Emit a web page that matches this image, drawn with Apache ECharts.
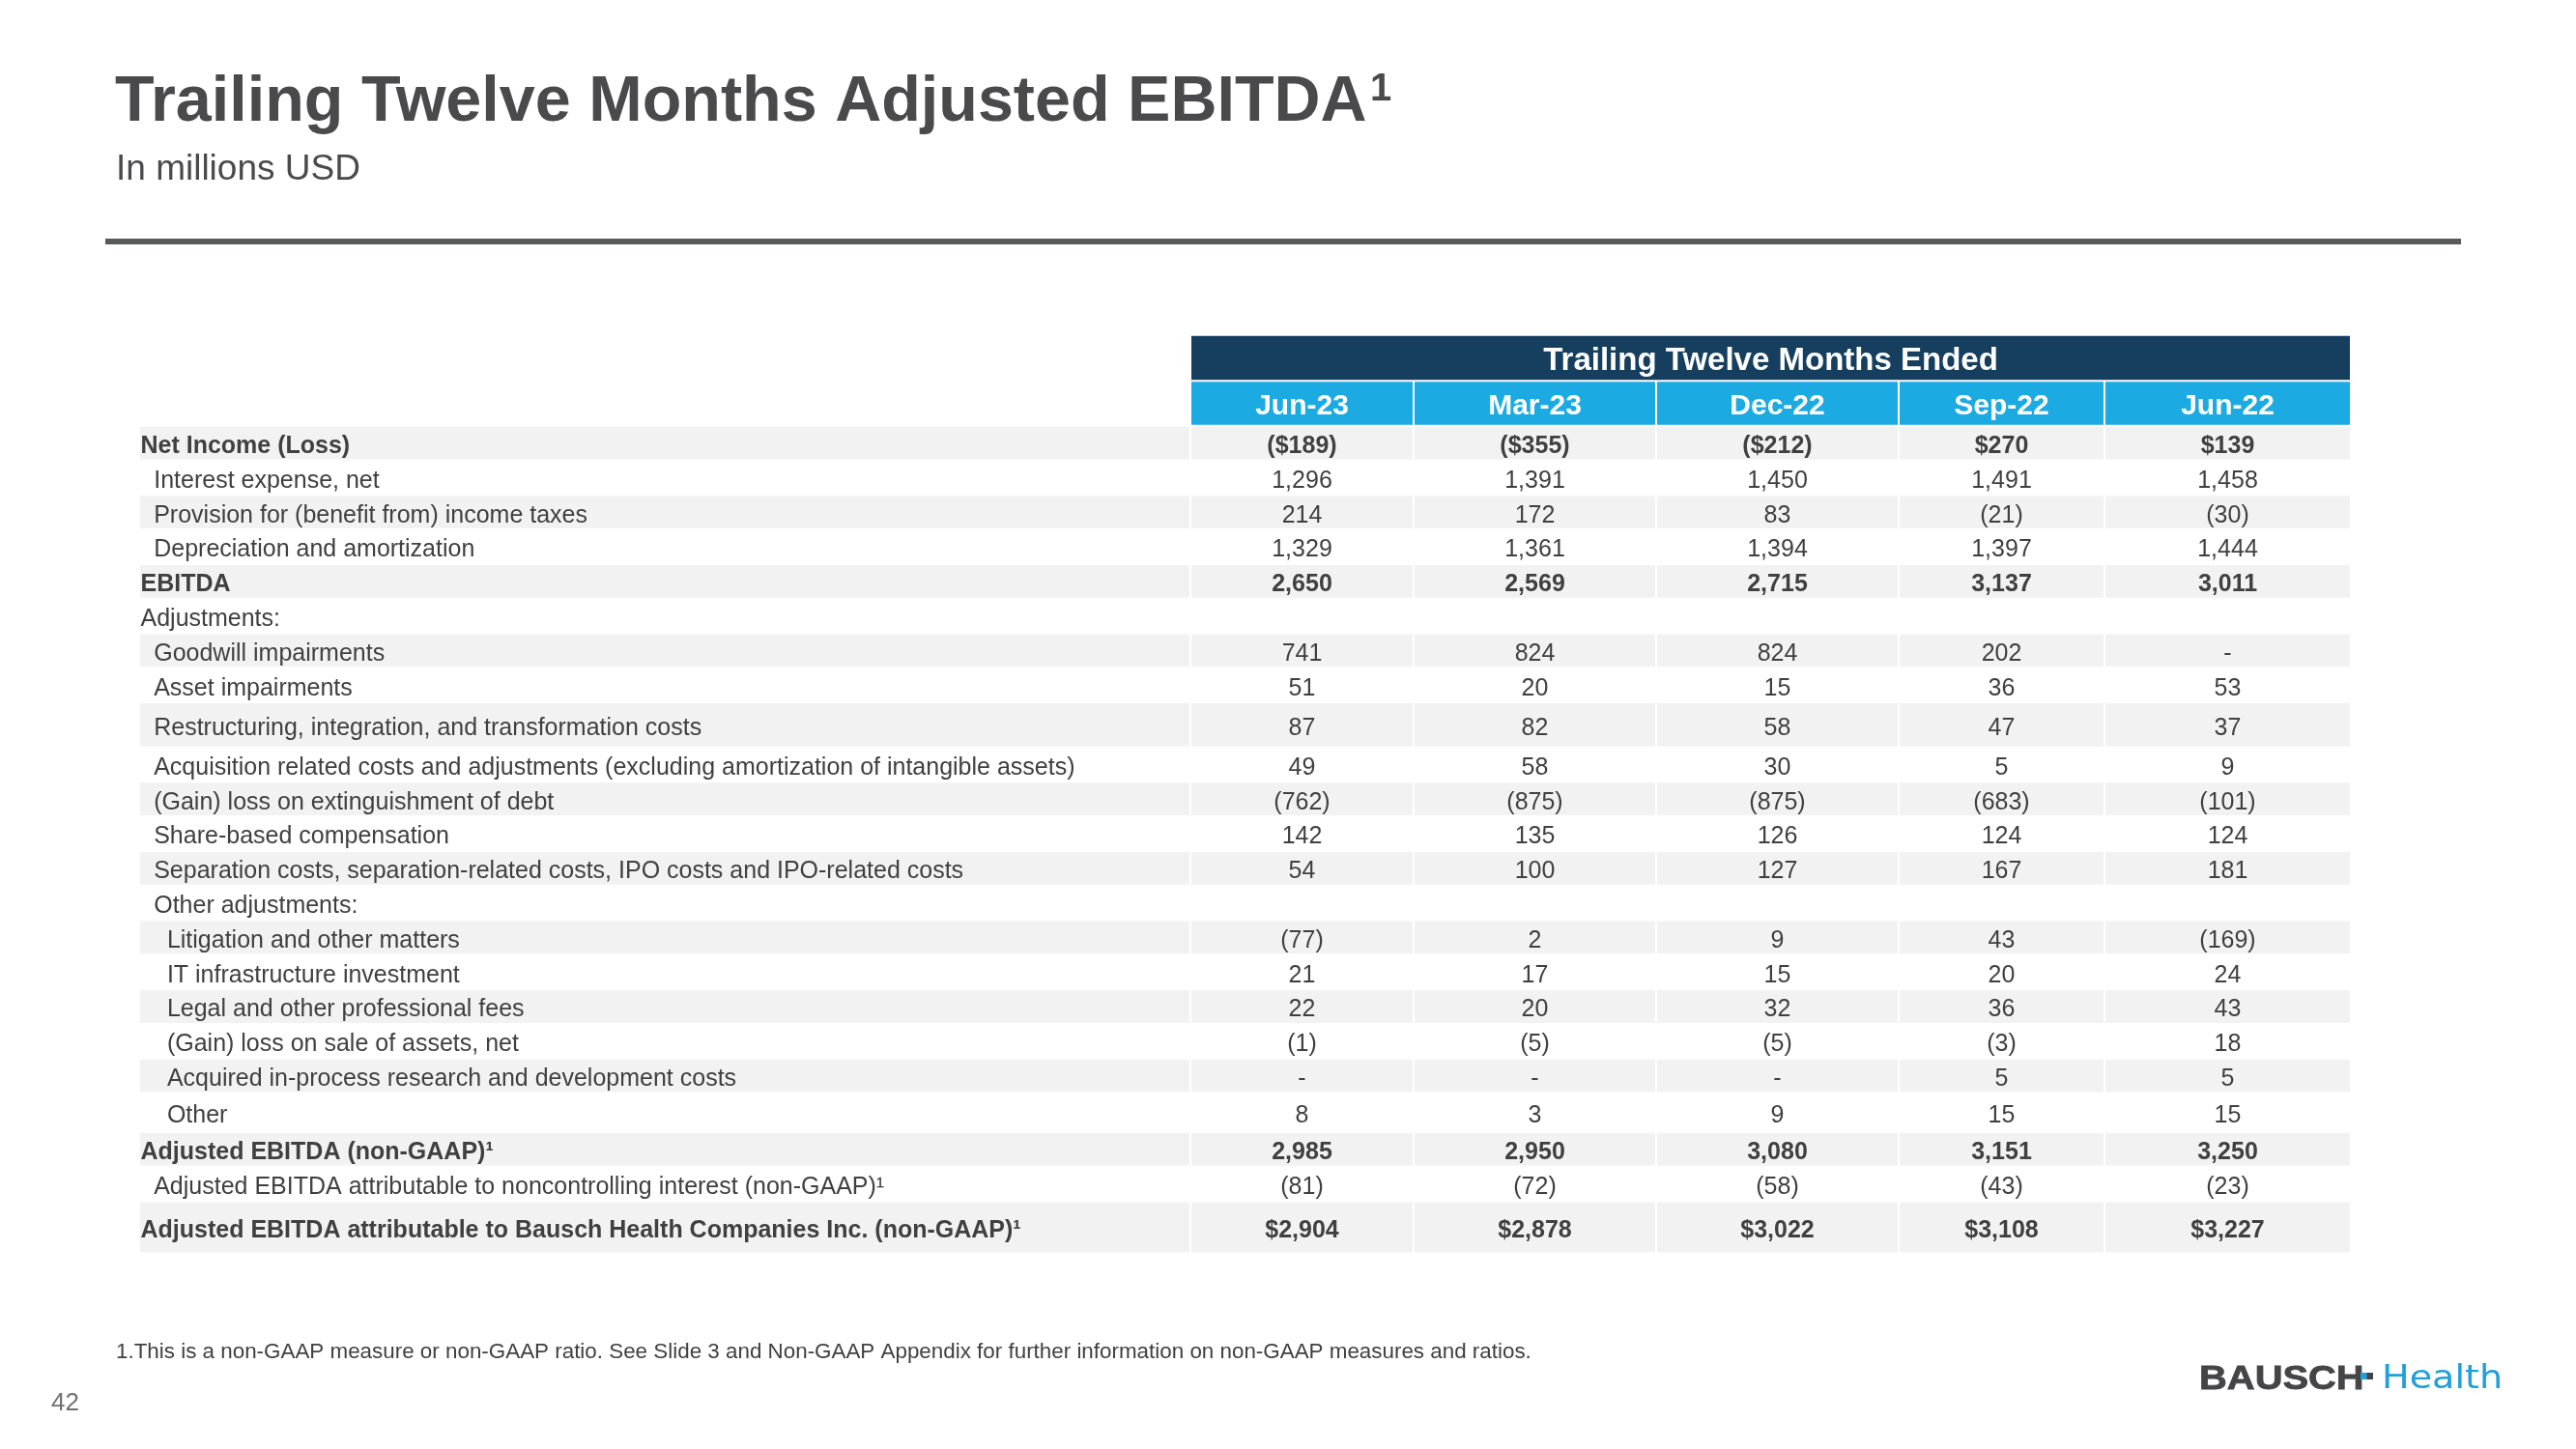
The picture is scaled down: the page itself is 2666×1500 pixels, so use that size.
<!DOCTYPE html>
<html><head><meta charset="utf-8">
<script src="https://cdn.jsdelivr.net/npm/echarts/dist/echarts.min.js"></script>
<style>html,body{margin:0;padding:0;background:#fff}#c{width:2666px;height:1500px}</style>
</head><body><div id="c"></div>
<script>
// ---------- DATA ----------
const periodHeader = 'Trailing Twelve Months Ended';
const columns = ['Jun-23', 'Mar-23', 'Dec-22', 'Sep-22', 'Jun-22'];
const rowLabels = [
  'Net Income (Loss)',
  'Interest expense, net',
  'Provision for (benefit from) income taxes',
  'Depreciation and amortization',
  'EBITDA',
  'Adjustments:',
  'Goodwill impairments',
  'Asset impairments',
  'Restructuring, integration, and transformation costs',
  'Acquisition related costs and adjustments (excluding amortization of intangible assets)',
  '(Gain) loss on extinguishment of debt',
  'Share-based compensation',
  'Separation costs, separation-related costs, IPO costs and IPO-related costs',
  'Other adjustments:',
  'Litigation and other matters',
  'IT infrastructure investment',
  'Legal and other professional fees',
  '(Gain) loss on sale of assets, net',
  'Acquired in-process research and development costs',
  'Other',
  'Adjusted EBITDA (non-GAAP)',
  'Adjusted EBITDA attributable to noncontrolling interest (non-GAAP)',
  'Adjusted EBITDA attributable to Bausch Health Companies Inc. (non-GAAP)'
];
const rowLevel    = [0,1,1,1,0,0,1,1,1,1,1,1,1,1,2,2,2,2,2,2,0,1,0];
const rowBold     = [1,0,0,0,1,0,0,0,0,0,0,0,0,0,0,0,0,0,0,0,1,0,1];
const rowFootnote = [0,0,0,0,0,0,0,0,0,0,0,0,0,0,0,0,0,0,0,0,1,1,1];
const rowCurrency = [1,0,0,0,0,0,0,0,0,0,0,0,0,0,0,0,0,0,0,0,0,0,1];

const jun23 = [-189,1296,214,1329,2650,null,741,51,87,49,-762,142,54,null,-77,21,22,-1,0,8,2985,-81,2904];
const mar23 = [-355,1391,172,1361,2569,null,824,20,82,58,-875,135,100,null,2,17,20,-5,0,3,2950,-72,2878];
const dec22 = [-212,1450,83,1394,2715,null,824,15,58,30,-875,126,127,null,9,15,32,-5,0,9,3080,-58,3022];
const sep22 = [270,1491,-21,1397,3137,null,202,36,47,5,-683,124,167,null,43,20,36,-3,5,15,3151,-43,3108];
const jun22 = [139,1458,-30,1444,3011,null,0,53,37,9,-101,124,181,null,-169,24,43,18,5,15,3250,-23,3227];
const seriesValues = [jun23, mar23, dec22, sep22, jun22];

const titleText = 'Trailing Twelve Months Adjusted EBITDA';
const subtitleText = 'In millions USD';
const footnoteText = '1.This is a non-GAAP measure or non-GAAP ratio. See Slide 3 and Non-GAAP Appendix for further information on non-GAAP measures and ratios.';
const pageNumber = '42';

// ---------- LAYOUT (styles, sizes) ----------
const FONT = '"Liberation Sans", Arial, sans-serif';
const TEXT = '#404040';
const NAVY = '#163f5f';
const BLUE = '#1caae2';
const GRAY = '#f2f2f2';
const DY = 3.5; // text baseline correction
const colWidths = [1088, 231, 251, 251, 213, 255];
const bodyRowH = rowLabels.map((_, i) => i === 8 ? 46.4 : i === 19 ? 40.3 : i === 22 ? 54 : 35.8);
const rowHeights = [47.5, 46.5].concat(bodyRowH);
const colEdges = [0]; colWidths.forEach(w => colEdges.push(colEdges[colEdges.length - 1] + w));
const rowEdges = [0]; rowHeights.forEach(h => rowEdges.push(rowEdges[rowEdges.length - 1] + h));
const totalW = colEdges[colEdges.length - 1];
const totalH = rowEdges[rowEdges.length - 1];

function fmt(v, cur) {
  if (v === null || v === undefined) return '';
  if (v === 0) return '-';
  const s = (cur ? '$' : '') + Math.abs(v).toLocaleString('en-US');
  return v < 0 ? '(' + s + ')' : s;
}

// cell descriptors
const cells = [];
cells.push({c0: 1, c1: 6, r0: 0, r1: 1, fill: NAVY, text: periodHeader, font: 'bold 33px ' + FONT, color: '#fff', align: 'center'});
columns.forEach((c, j) => cells.push({c0: j + 1, c1: j + 2, r0: 1, r1: 2, fill: BLUE, text: c, font: 'bold 30px ' + FONT, color: '#fff', align: 'center'}));
rowLabels.forEach((lab, i) => {
  const fill = i % 2 === 0 ? GRAY : null;
  const f = (rowBold[i] ? 'bold ' : '') + '25px ' + FONT;
  cells.push({c0: 0, c1: 1, r0: i + 2, r1: i + 3, fill, text: lab + (rowFootnote[i] ? '\u00b9' : ''), font: f, color: TEXT, align: 'left', level: rowLevel[i]});
  seriesValues.forEach((arr, j) => {
    cells.push({c0: j + 1, c1: j + 2, r0: i + 2, r1: i + 3, fill, text: fmt(arr[i], rowCurrency[i]), font: f, color: TEXT, align: 'center'});
  });
});

const chart = echarts.init(document.getElementById('c'), null, {renderer: 'canvas', width: 2666, height: 1500});

function renderCell(params, api) {
  const d = cells[params.dataIndex];
  const p0 = api.coord([colEdges[d.c0], rowEdges[d.r0]]);
  const p1 = api.coord([colEdges[d.c1], rowEdges[d.r1]]);
  const x = Math.min(p0[0], p1[0]) + 1, y = Math.min(p0[1], p1[1]) + 1;
  const w = Math.abs(p1[0] - p0[0]) - 2, h = Math.abs(p1[1] - p0[1]) - 2;
  const children = [];
  if (d.fill) children.push({type: 'rect', shape: {x, y, width: w, height: h}, style: {fill: d.fill}});
  if (d.text) {
    const tx = d.align === 'left' ? x + 0.5 + (d.level || 0) * 13.7 : x + w / 2;
    children.push({type: 'text', style: {text: d.text, x: tx, y: y + h / 2 + DY, textAlign: d.align, textVerticalAlign: 'middle', font: d.font, fill: d.color}});
  }
  return {type: 'group', children};
}

const option = {
  animation: false,
  backgroundColor: '#ffffff',
  grid: {left: 144, top: 346.7, width: totalW, height: totalH, containLabel: false},
  xAxis: {type: 'value', min: 0, max: totalW, show: false},
  yAxis: {type: 'value', min: 0, max: totalH, inverse: true, show: false},
  series: [{
    type: 'custom',
    renderItem: renderCell,
    clip: false,
    data: cells.map(d => [(colEdges[d.c0] + colEdges[d.c1]) / 2, (rowEdges[d.r0] + rowEdges[d.r1]) / 2])
  }],
  graphic: [
    {type: 'text', x: 119, y: 106.5, style: {text: titleText, font: 'bold 66.5px ' + FONT, fill: '#4a4a4c', textVerticalAlign: 'middle'}},
    {type: 'text', x: 1418, y: 92.7, style: {text: '1', font: 'bold 40px ' + FONT, fill: '#4a4a4c', textVerticalAlign: 'middle'}},
    {type: 'text', x: 120, y: 175.5, style: {text: subtitleText, font: '37px ' + FONT, fill: '#4a4a4c', textVerticalAlign: 'middle'}},
    {type: 'rect', shape: {x: 109, y: 247, width: 2438, height: 6}, style: {fill: '#58595b'}},
    {type: 'text', x: 120, y: 1400, style: {text: footnoteText, font: '22.4px ' + FONT, fill: '#404040', textVerticalAlign: 'middle'}},
    {type: 'text', x: 53, y: 1453, style: {text: pageNumber, font: '26px ' + FONT, fill: '#707070', textVerticalAlign: 'middle'}},
    {type: 'text', x: 2276, y: 1428.5, scaleX: 1.14, style: {text: 'BAUSCH', font: 'bold 35px ' + FONT, fill: '#454547', textVerticalAlign: 'middle', stroke: '#454547', lineWidth: 0.8}},
    {type: 'rect', shape: {x: 2440, y: 1421, width: 16, height: 7}, style: {fill: '#454547'}},
    {type: 'rect', shape: {x: 2443, y: 1421, width: 6.5, height: 7}, style: {fill: '#1fa0dc'}},
    {type: 'text', x: 2465, y: 1428.5, scaleX: 1.12, style: {text: 'Health', font: '34px "DejaVu Sans", sans-serif', fill: '#1fa0dc', textVerticalAlign: 'middle'}}
  ]
};
chart.setOption(option);
</script>
</body></html>
